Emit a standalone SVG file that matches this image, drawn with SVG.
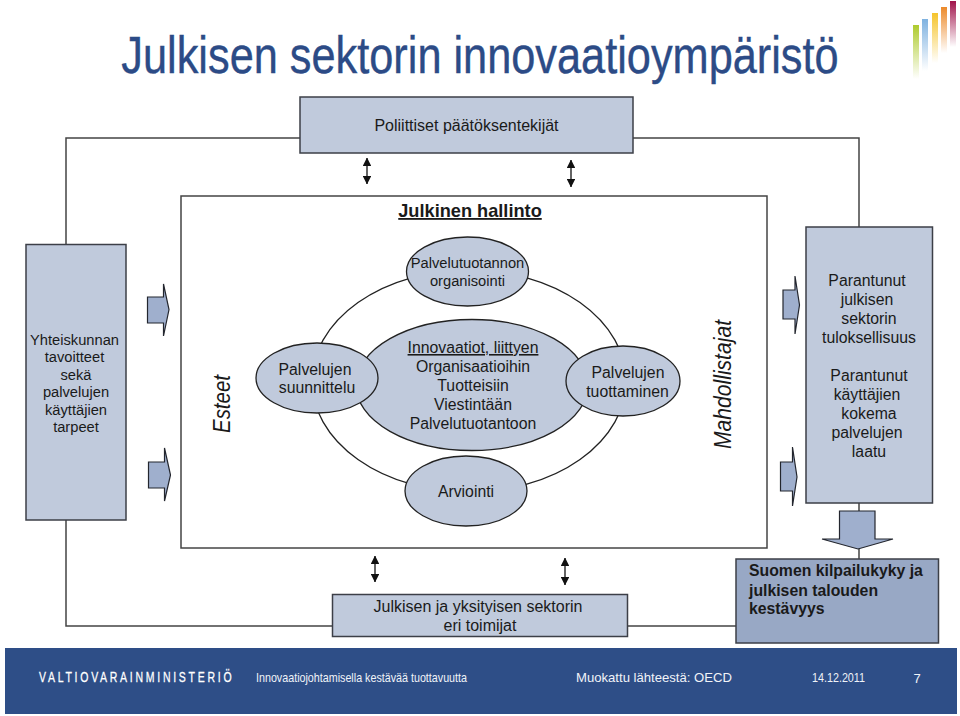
<svg xmlns="http://www.w3.org/2000/svg" width="960" height="716" viewBox="0 0 960 716">
<style>
text{font-family:"Liberation Sans",Arial,sans-serif;fill:#1a1a1a;font-size:15.800px;text-anchor:middle}
.box{fill:#c0cadc;stroke:#3c3f47;stroke-width:1.5}
.ell{fill:#c0cadc;stroke:#222;stroke-width:1.3}
.ln{fill:none;stroke:#444;stroke-width:1.5}
.ba{fill:#9fafcd;stroke:#23262e;stroke-width:1.2}
.da{stroke:#111;stroke-width:1.3;fill:none;marker-start:url(#h);marker-end:url(#h)}
.s{font-size:14.700px}
.f{fill:#f0f3f8;font-size:13px}
.b{font-weight:bold;text-anchor:start}
</style>
<defs>
<marker id="h" viewBox="0 0 10 10" refX="9.500" refY="5" markerWidth="8.500" markerHeight="8.500" markerUnits="userSpaceOnUse" orient="auto-start-reverse"><path d="M0 0L10 5L0 10Z" fill="#111"/></marker>
<linearGradient id="g1" x1="0" y1="0" x2="0" y2="1"><stop offset="0" stop-color="#aecb2e"/><stop offset="1" stop-color="#aecb2e" stop-opacity="0"/></linearGradient>
<linearGradient id="g2" x1="0" y1="0" x2="0" y2="1"><stop offset="0" stop-color="#7fb2e0"/><stop offset="1" stop-color="#7fb2e0" stop-opacity="0"/></linearGradient>
<linearGradient id="g3" x1="0" y1="0" x2="0" y2="1"><stop offset="0" stop-color="#f5c42c"/><stop offset="1" stop-color="#f5c42c" stop-opacity="0"/></linearGradient>
<linearGradient id="g4" x1="0" y1="0" x2="0" y2="1"><stop offset="0" stop-color="#ec8a2a"/><stop offset="1" stop-color="#ec8a2a" stop-opacity="0"/></linearGradient>
<linearGradient id="g5" x1="0" y1="0" x2="0" y2="1"><stop offset="0" stop-color="#a0124a"/><stop offset="1" stop-color="#a0124a" stop-opacity="0"/></linearGradient>
</defs>
<rect width="960" height="716" fill="#fff"/>
<g id="logo-bars">
<rect x="913" y="25" width="6" height="54" fill="url(#g1)"/>
<rect x="922" y="19" width="6" height="52" fill="url(#g2)"/>
<rect x="932" y="13" width="6" height="50" fill="url(#g3)"/>
<rect x="941" y="7" width="6" height="46" fill="url(#g4)"/>
<rect x="950" y="1" width="6" height="46" fill="url(#g5)"/>
</g>
<text id="title" transform="translate(480,73) scale(.833,1)" style="font-size:52px;fill:#2c4b86;stroke:#2c4b86;stroke-width:.4">Julkisen sektorin innovaatioympäristö</text>
<g id="connectors">
<path class="ln" d="M300 138H66V244M66 520V626H332M628 626H736M633 138H859V227M859 503V559"/>
<path class="da" d="M367 158V184"/>
<path class="da" d="M571 160V187"/>
<path class="da" d="M375 556V582"/>
<path class="da" d="M565 558V585"/>
</g>
<g id="hallinto">
<rect x="181" y="196" width="586" height="352" fill="#fff" stroke="#444" stroke-width="1.5"/>
<text x="470" y="217" style="font-size:18.200px;font-weight:bold;text-decoration:underline">Julkinen hallinto</text>
<text transform="translate(230,404) rotate(-90)" style="font-size:23px;font-style:italic" textLength="58" lengthAdjust="spacingAndGlyphs">Esteet</text>
<text transform="translate(731,384.500) rotate(-90)" style="font-size:23px;font-style:italic" textLength="129" lengthAdjust="spacingAndGlyphs">Mahdollistajat</text>
</g>
<g id="paatoksentekijat"><rect class="box" x="300" y="97" width="333" height="56"/><text x="466.500" y="131" style="font-size:16px">Poliittiset päätöksentekijät</text></g>
<g id="yhteiskunnan"><rect class="box" x="26" y="244.500" width="100" height="275.500"/>
<g class="s"><text class="s" x="74.500" y="345">Yhteiskunnan</text><text class="s" x="74.500" y="362">tavoitteet</text><text class="s" x="76" y="380">sekä</text><text class="s" x="76" y="397">palvelujen</text><text class="s" x="76" y="415">käyttäjien</text><text class="s" x="76" y="432">tarpeet</text></g></g>
<g id="parantunut"><rect class="box" x="806" y="227" width="126.500" height="276"/>
<text x="867" y="286">Parantunut</text><text x="867" y="305">julkisen</text><text x="869" y="324">sektorin</text><text x="869" y="343">tuloksellisuus</text><text x="869" y="381">Parantunut</text><text x="867" y="400">käyttäjien</text><text x="869" y="419">kokema</text><text x="867" y="438">palvelujen</text><text x="869" y="457">laatu</text></g>
<g id="cycle"><ellipse cx="469" cy="381" rx="157" ry="111" fill="#fff" stroke="#222" stroke-width="1.3"/></g>
<g id="organisointi"><ellipse class="ell" cx="467.500" cy="271.500" rx="61" ry="34.500"/><text class="s" x="467.500" y="268">Palvelutuotannon</text><text class="s" x="467.500" y="286">organisointi</text></g>
<g id="innovaatiot"><ellipse class="ell" cx="472" cy="385" rx="116" ry="65.500"/><text x="473" y="353" style="text-decoration:underline">Innovaatiot, liittyen</text><text x="473" y="372">Organisaatioihin</text><text x="473" y="391">Tuotteisiin</text><text x="473" y="410">Viestintään</text><text x="473" y="429">Palvelutuotantoon</text></g>
<g id="suunnittelu"><ellipse class="ell" cx="317" cy="378" rx="61" ry="35"/><text x="315" y="375">Palvelujen</text><text x="317" y="393">suunnittelu</text></g>
<g id="tuottaminen"><ellipse class="ell" cx="623" cy="381" rx="57" ry="35"/><text x="628" y="378">Palvelujen</text><text x="627.500" y="397">tuottaminen</text></g>
<g id="arviointi"><ellipse class="ell" cx="466" cy="491" rx="61" ry="35"/><text x="466" y="497">Arviointi</text></g>
<g id="arrows">
<path class="ba" d="M147.500 297H163.500V284L169 309.500L163.500 336V323H147.500Z"/>
<path class="ba" d="M148.500 462H164.500V448L170.500 475L164.500 501V488H148.500Z"/>
<path class="ba" d="M783 290H795V276L799.500 305L795 334V319H783Z"/>
<path class="ba" d="M780.500 462H792.500V447L797 477L792.500 506V491H780.500Z"/>
<path class="ba" d="M839.500 511H875V539H893L858 549L822 539H839.500Z"/>
</g>
<g id="toimijat"><rect class="box" x="332.500" y="594.500" width="295" height="42"/><text x="478" y="612" style="font-size:16px">Julkisen ja yksityisen sektorin</text><text x="480" y="631" style="font-size:16px">eri toimijat</text></g>
<g id="suomen"><rect fill="#98a8c5" stroke="#3c3f47" stroke-width="1.5" x="736" y="559" width="202.500" height="84"/>
<text class="b" x="749" y="576">Suomen kilpailukyky ja</text><text class="b" x="749" y="596">julkisen talouden</text><text class="b" x="749" y="614">kestävyys</text></g>
<g id="footer">
<rect x="5" y="648" width="952" height="66" fill="#2e4e87"/>
<text transform="translate(39,682) scale(.7,1)" style="fill:#fff;stroke:#fff;stroke-width:.3;font-size:15px;letter-spacing:3.900px;text-anchor:start">VALTIOVARAINMINISTERIÖ</text>
<text class="f" x="361.500" y="682" textLength="211" lengthAdjust="spacingAndGlyphs">Innovaatiojohtamisella kestävää tuottavuutta</text>
<text class="f" x="654" y="682" textLength="156" lengthAdjust="spacingAndGlyphs">Muokattu lähteestä: OECD</text>
<text class="f" x="838.500" y="682" textLength="53" lengthAdjust="spacingAndGlyphs">14.12.2011</text>
<text class="f" x="917" y="683">7</text>
</g>
</svg>
